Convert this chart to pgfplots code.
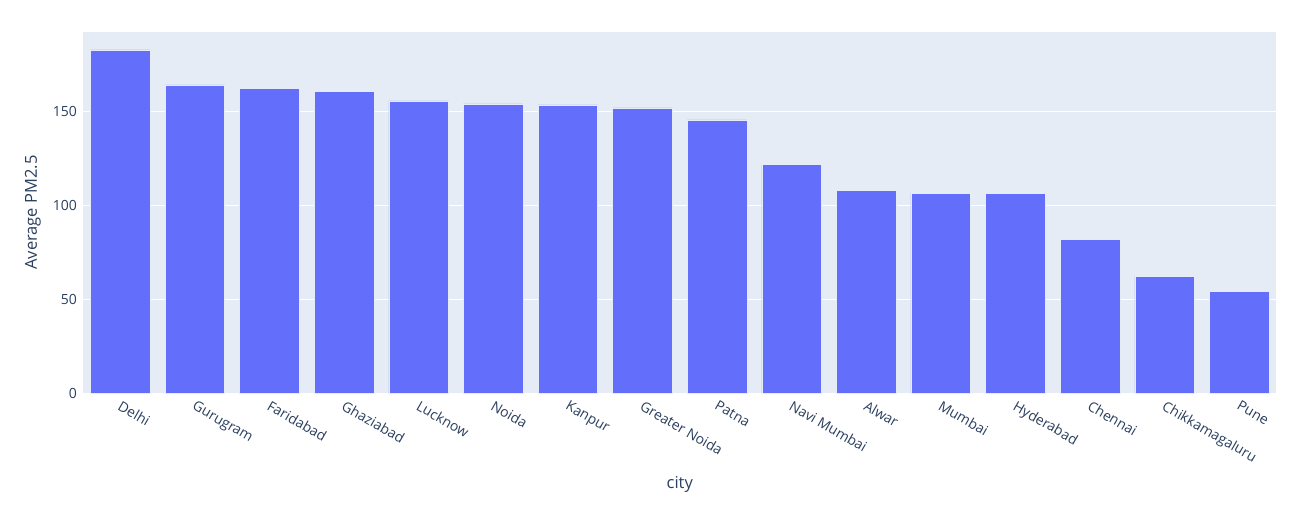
\documentclass[border=0pt]{standalone}
\usepackage{pgfplots}
\pgfplotsset{compat=1.18}
\usepackage{fontspec}
\setmainfont{Open Sans}
\definecolor{plotbg}{HTML}{E5ECF6}
\definecolor{barblue}{HTML}{636EFA}
\definecolor{fontcol}{HTML}{2A3F5F}
\begin{document}
\begin{tikzpicture}
\path[use as bounding box] (0,0) rectangle (1306pt,504pt);
\begin{axis}[
    at={(83pt,111pt)}, anchor=south west,
    scale only axis,
    width=1193.5pt, height=361pt,
    xmin=-0.5, xmax=15.5,
    ymin=0, ymax=192.6,
    axis background/.style={fill=plotbg},
    axis line style={draw=none},
    major tick length=0pt,
    ytick={0,50,100,150},
    ymajorgrids,
    grid style={white, line width=1pt},
    xtick=data,
    xticklabels={Delhi,Gurugram,Faridabad,Ghaziabad,Lucknow,Noida,Kanpur,Greater Noida,Patna,Navi Mumbai,Alwar,Mumbai,Hyderabad,Chennai,Chikkamagaluru,Pune},
    xticklabel style={rotate=-30, anchor=north west, inner sep=0pt, yshift=-5pt, xshift=5pt, font=\fontsize{14}{16}\selectfont, text=fontcol},
    yticklabel style={anchor=east, inner sep=0pt, xshift=-6pt, font=\fontsize{14}{16}\selectfont, text=fontcol},
    /pgf/number format/assume math mode=true,
    xlabel={city},
    ylabel={Average PM2.5},
    every axis x label/.style={at={(rel axis cs:0.5,0)}, yshift=-91pt, anchor=center, font=\fontsize{16.5}{18}\selectfont, text=fontcol},
    every axis y label/.style={at={(rel axis cs:0,0.5)}, xshift=-50pt, rotate=90, anchor=center, font=\fontsize{16.5}{18}\selectfont, text=fontcol},
]
\addplot[ybar, bar width=0.8, fill=barblue, draw=plotbg, line width=0.5pt] coordinates {
    (0,183.0) (1,164.4) (2,162.5) (3,161.1) (4,155.9) (5,154.3) (6,153.7) (7,152.1)
    (8,145.7) (9,121.8) (10,108.3) (11,106.7) (12,106.5) (13,81.8) (14,62.2) (15,54.4)
};
\end{axis}
\end{tikzpicture}
\end{document}
